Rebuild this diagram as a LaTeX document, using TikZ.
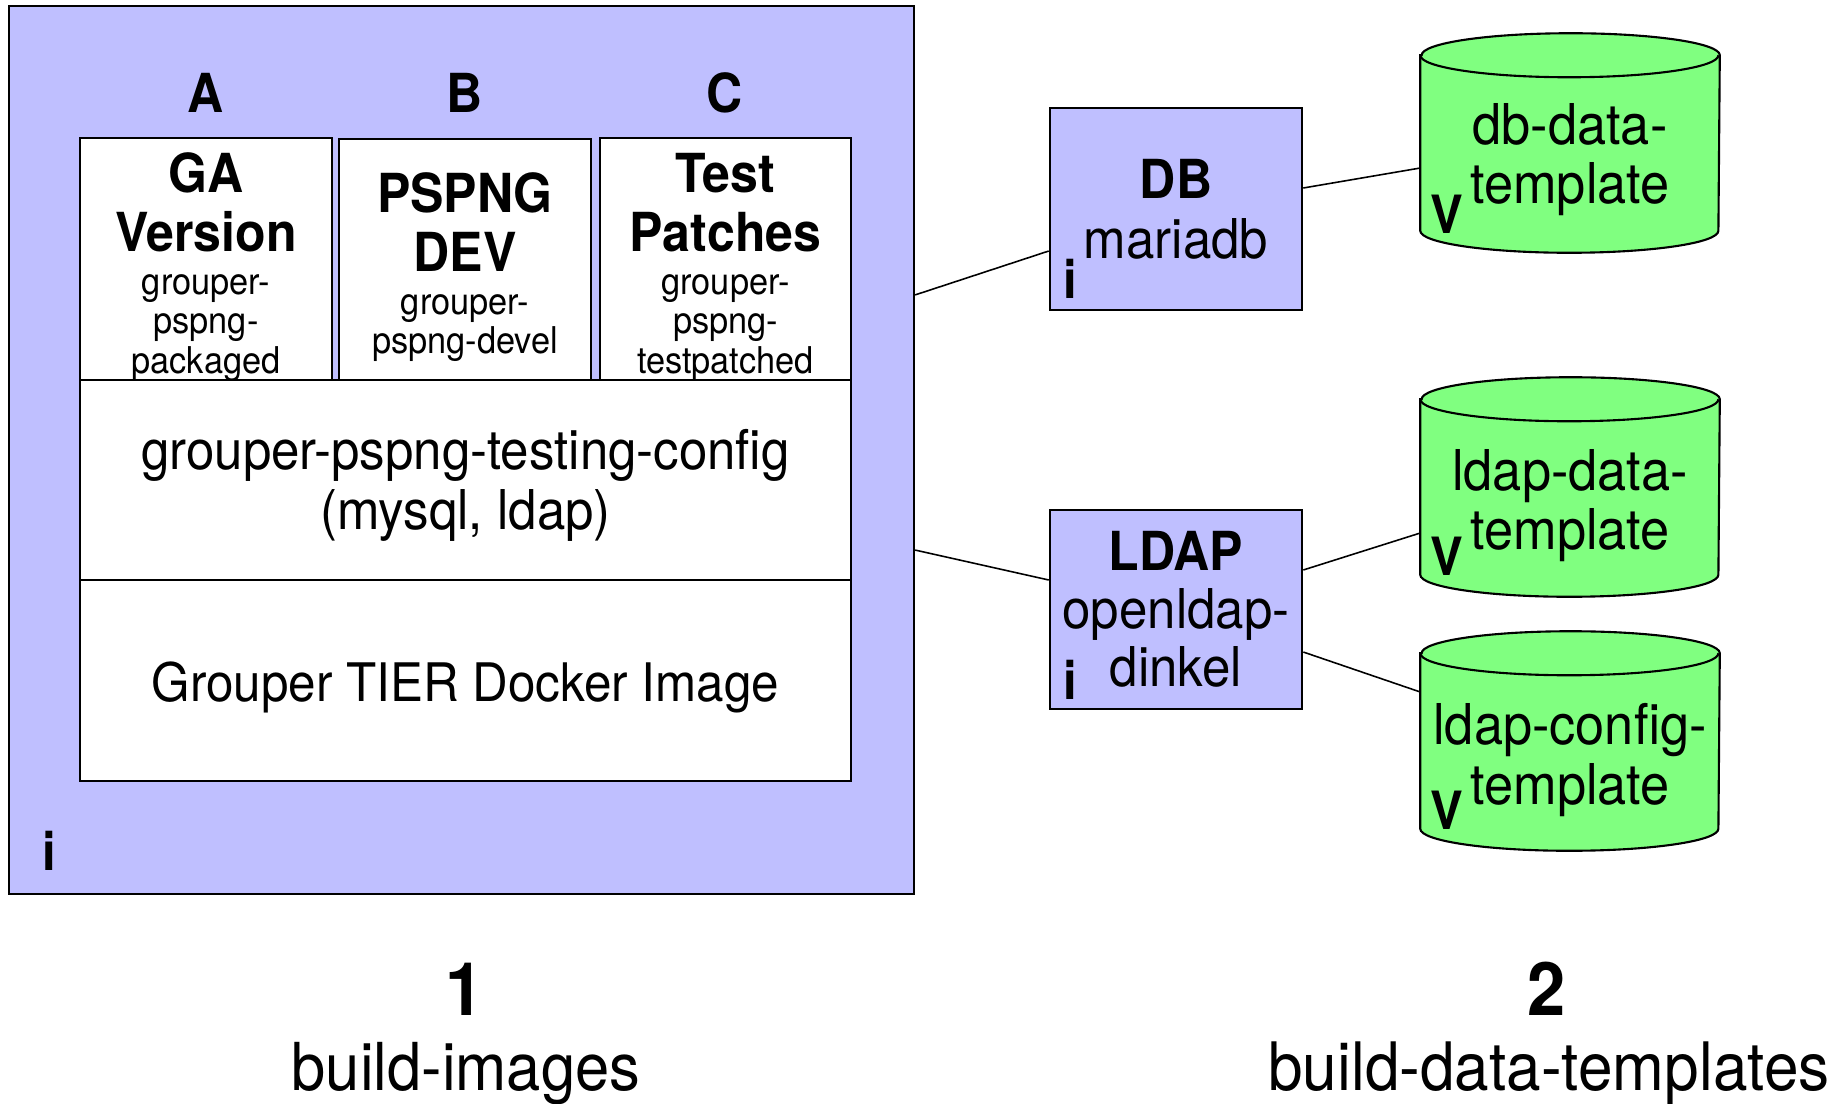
\documentclass[tikz,border=0pt]{standalone}
\usepackage{fontspec}
\setmainfont{TeX Gyre Heros}[FakeStretch=0.93]

\definecolor{hostblue}{RGB}{191,191,255}
\definecolor{volgreen}{RGB}{128,255,128}

\newcommand{\mainf}{\fontsize{15.6}{16.8}\selectfont}
\newcommand{\titlef}{\fontsize{15.3}{16.8}\selectfont\bfseries}
\newcommand{\subf}{\fontsize{10.5}{10.7}\selectfont}
\newcommand{\lift}[1]{\rule{0pt}{#1}}

% green data volume drawn round an empty node
\newcommand{\volshape}[1]{%
  \draw[fill=volgreen, line width=0.6pt] ([yshift=-0.22cm]#1.north west) -- ([yshift=0.22cm]#1.south west)
    arc[start angle=180, end angle=360, x radius=1.49cm, y radius=0.22cm]
    -- ([yshift=-0.22cm]#1.north east)
    arc[start angle=0, end angle=180, x radius=1.49cm, y radius=0.22cm] -- cycle;
  \draw[line width=0.6pt] ([yshift=-0.22cm]#1.north west)
    arc[start angle=180, end angle=360, x radius=1.49cm, y radius=0.22cm];
}

\tikzset{
  hostbox/.style={draw, fill=hostblue, line width=0.5pt, inner sep=0pt},
  imgbox/.style={draw, fill=white, line width=0.7pt, align=center, inner sep=0pt, font=\mainf},
  svcbox/.style={draw, fill=hostblue, line width=0.7pt, align=center, inner sep=0pt,
    font=\mainf, minimum width=2.52cm},
  volume/.style={minimum width=2.98cm, minimum height=2.18cm, inner sep=0pt},
  voltext/.style={align=center, inner sep=0pt, font=\fontsize{16}{16.8}\selectfont},
  marker/.style={font=\fontsize{15}{15}\selectfont\bfseries, anchor=base, inner sep=0pt},
  link/.style={line width=0.45pt}
}

\begin{document}
\begin{tikzpicture}[x=0.01cm, y=-0.01cm]
  \useasboundingbox (0,0) rectangle (1846,1103);

  % build-images
  \node[hostbox, minimum width=9.05cm, minimum height=8.88cm] (host) at (461.5,450) {};
  \foreach \xcol/\lcol in {206/A, 465/B, 725/C} {
    \node[marker, font=\titlef] (col\lcol) at (\xcol,112) {\lcol};
  }
  \node[imgbox, minimum width=2.52cm, minimum height=2.41cm] (ga) at (206,259.5)
    {\lift{15.5pt}\titlef GA\\[0pt]\titlef Version\\[-4.6pt]\subf grouper-\\[-5.6pt]\subf pspng-\\[-5.6pt]\subf packaged};
  \node[imgbox, minimum width=2.52cm, minimum height=2.41cm] (dev) at (465,259.5)
    {\lift{15.5pt}\titlef PSPNG\\[0pt]\titlef DEV\\[-4.6pt]\subf grouper-\\[-5.6pt]\subf pspng-devel};
  \node[imgbox, minimum width=2.51cm, minimum height=2.41cm] (patch) at (725.5,259.5)
    {\lift{15.5pt}\titlef Test\\[0pt]\titlef Patches\\[-4.6pt]\subf grouper-\\[-5.6pt]\subf pspng-\\[-5.6pt]\subf testpatched};
  \node[imgbox, minimum width=7.71cm, minimum height=2.00cm] (cfg) at (465.5,480)
    {\lift{14.5pt}grouper-pspng-testing-config\\(mysql, ldap)};
  \node[imgbox, minimum width=7.71cm, minimum height=2.01cm, font=\fontsize{15.1}{16.8}\selectfont] (base) at (465.5,680.5)
    {\lift{15.4pt}Grouper TIER Docker Image};
  \node[marker] (hosti) at (49,870) {i};

  % services
  \node[svcbox, minimum height=2.02cm] (db) at (1176,209) {\titlef DB\\[0.2pt]mariadb};
  \node[svcbox, minimum height=1.99cm] (ldap) at (1176,609.5)
    {\titlef LDAP\\[-0.3pt]openldap-\\[-0.3pt]dinkel};
  \node[marker] (dbi) at (1070,298) {i};
  \node[marker] (ldapi) at (1070,699) {i};

  % data templates
  \node[volume] (dbt) at (1570,143) {};
  \node[volume] (ldt) at (1570,487) {};
  \node[volume] (lct) at (1570,741) {};
  \volshape{dbt}
  \volshape{ldt}
  \volshape{lct}
  \node[voltext] (dbtxt) at ([yshift=-0.165cm]dbt.center) {db-data-\\template};
  \node[voltext] (ldtxt) at ([yshift=-0.19cm]ldt.center) {ldap-data-\\template};
  \node[voltext] (lctxt) at ([yshift=-0.19cm]lct.center) {ldap-config-\\template};
  \node[marker] (dbv) at (1447,233) {V};
  \node[marker] (ldv) at (1447,575) {V};
  \node[marker] (lcv) at (1447,829) {V};

  \draw[link] ([yshift=1.55cm]host.east) -- ([yshift=-0.42cm]db.west);
  \draw[link] ([yshift=-1.00cm]host.east) -- ([yshift=0.295cm]ldap.west);
  \draw[link] ([yshift=0.21cm]db.east) -- ([yshift=-0.25cm]dbt.west);
  \draw[link] ([yshift=0.395cm]ldap.east) -- ([yshift=-0.46cm]ldt.west);
  \draw[link] ([yshift=-0.425cm]ldap.east) -- ([yshift=0.49cm]lct.west);

  % steps
  \node[font=\fontsize{21}{21}\selectfont\bfseries, anchor=base] (stepone) at (465,1015) {1};
  \node[font=\fontsize{18.8}{19}\selectfont, anchor=base] (steponetxt) at (466,1090) {build-images};
  \node[font=\fontsize{21}{21}\selectfont\bfseries, anchor=base] (steptwo) at (1547,1015) {2};
  \node[font=\fontsize{19}{19}\selectfont, anchor=base] (steptwotxt) at (1549,1090) {build-data-templates};
\end{tikzpicture}
\end{document}
